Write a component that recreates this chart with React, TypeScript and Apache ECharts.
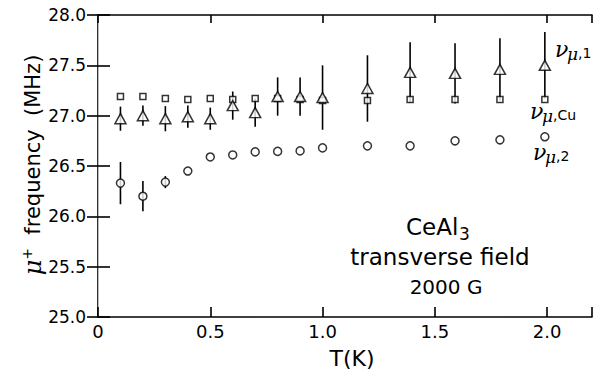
import React, { useEffect, useRef } from "react";
import * as echarts from "echarts";

// Temperature (K)
const T = [0.1, 0.2, 0.3, 0.4, 0.5, 0.6, 0.7, 0.8, 0.9, 1.0, 1.2, 1.39, 1.59, 1.79, 1.99];
// nu_mu,Cu (squares)
const nuCu = [27.19, 27.19, 27.17, 27.16, 27.17, 27.16, 27.17, 27.17, 27.16, 27.15, 27.15, 27.16, 27.16, 27.16, 27.16];
// nu_mu,1 (triangles) and its error
const nu1 = [26.97, 27.0, 26.97, 26.99, 26.97, 27.1, 27.03, 27.19, 27.19, 27.18, 27.27, 27.43, 27.42, 27.46, 27.5];
const nu1Err = [0.12, 0.1, 0.125, 0.11, 0.11, 0.14, 0.14, 0.19, 0.19, 0.32, 0.33, 0.3, 0.3, 0.31, 0.33];
// nu_mu,2 (circles) and its error
const nu2 = [26.33, 26.2, 26.34, 26.45, 26.59, 26.61, 26.64, 26.645, 26.65, 26.68, 26.7, 26.7, 26.75, 26.76, 26.79];
const nu2Err = [0.21, 0.15, 0.06, 0, 0, 0, 0, 0, 0, 0, 0, 0, 0, 0, 0];

const yTicks = { min: 25, max: 28, interval: 0.5 };
const xTicks = { min: 0, max: 2.2, interval: 0.5 };

const FONT = "DejaVu Sans";
const SERIF = "DejaVu Serif";

function errData(vals: number[], errs: number[]) {
  const out: number[][] = [];
  vals.forEach((v, i) => {
    if (errs[i] > 0) out.push([T[i], v - errs[i], v + errs[i]]);
  });
  return out;
}

const renderErr = (params: any, api: any) => {
  const x = api.value(0);
  const p1 = api.coord([x, api.value(1)]);
  const p2 = api.coord([x, api.value(2)]);
  return {
    type: "line",
    shape: { x1: p1[0], y1: p1[1], x2: p2[0], y2: p2[1] },
    style: { stroke: "#000", lineWidth: 1.6 },
  };
};

function nuLabel(x: number, y: number, sub: string, subDx: number) {
  return [
    { type: "text", x, y, style: { text: "ν", fontFamily: SERIF, fontStyle: "italic", fontSize: 22, fill: "#000", verticalAlign: "middle", align: "left" } },
    { type: "text", x: x + 12, y: y + 5, style: { text: "μ", fontFamily: SERIF, fontStyle: "italic", fontSize: 17, fill: "#000", verticalAlign: "middle", align: "left" } },
    { type: "text", x: x + 12 + subDx, y: y + 4, style: { text: sub, fontFamily: FONT, fontSize: 14, fill: "#000", verticalAlign: "middle", align: "left" } },
  ];
}

export default function App() {
  const ref = useRef<HTMLDivElement>(null);
  useEffect(() => {
    if (!ref.current) return;
    const chart = echarts.init(ref.current, null, { renderer: "svg" });
    const axisLine = { show: true, lineStyle: { color: "#000", width: 1.6 } };
    const tickFmtX = (v: number) =>
      Math.abs(v * 2 - Math.round(v * 2)) > 1e-6 ? "" : v === 0 ? "0" : v.toFixed(1);
    chart.setOption({
      animation: false,
      backgroundColor: "#fff",
      grid: { left: 98, right: 1, top: 15, bottom: 57 },
      xAxis: [
        {
          type: "value", position: "bottom", ...xTicks,
          axisLine, axisTick: { inside: true, length: 10, lineStyle: { color: "#000", width: 1.6 } },
          axisLabel: { formatter: tickFmtX, fontSize: 18, fontFamily: FONT, color: "#000", margin: 5 },
          splitLine: { show: false },
        },
        {
          type: "value", position: "top", ...xTicks,
          axisLine, axisTick: { inside: true, length: 8, lineStyle: { color: "#000", width: 1.6 } },
          axisLabel: { show: false }, splitLine: { show: false },
        },
      ],
      yAxis: [
        {
          type: "value", position: "left", ...yTicks,
          axisLine, axisTick: { inside: true, length: 12, lineStyle: { color: "#000", width: 1.6 } },
          axisLabel: { formatter: (v: number) => v.toFixed(1), fontSize: 17, fontFamily: FONT, color: "#000", margin: 12 },
          splitLine: { show: false },
        },
        {
          type: "value", position: "right", ...yTicks,
          axisLine: { show: true, lineStyle: { color: "#bbb", width: 1 } },
          axisTick: { inside: true, length: 11, lineStyle: { color: "#000", width: 1.6 } },
          axisLabel: { show: false }, splitLine: { show: false },
        },
      ],
      series: [
        { type: "custom", renderItem: renderErr, data: errData(nu1, nu1Err), encode: { x: 0, y: [1, 2] }, z: 1 },
        { type: "custom", renderItem: renderErr, data: errData(nu2, nu2Err), encode: { x: 0, y: [1, 2] }, z: 1 },
        {
          type: "scatter", name: "nu_mu,Cu", data: T.map((t, i) => [t, nuCu[i]]), symbol: "rect", symbolSize: 6,
          itemStyle: { color: "#fff", borderColor: "#000", borderWidth: 1.5 }, z: 3,
        },
        {
          type: "scatter", name: "nu_mu,1", data: T.map((t, i) => [t, nu1[i]]), symbol: "triangle", symbolSize: [11, 10],
          itemStyle: { color: "#fff", borderColor: "#000", borderWidth: 1.5 }, z: 4,
        },
        {
          type: "scatter", name: "nu_mu,2", data: T.map((t, i) => [t, nu2[i]]), symbol: "circle", symbolSize: 8,
          itemStyle: { color: "#fff", borderColor: "#000", borderWidth: 1.5 }, z: 4,
        },
      ],
      graphic: [
        {
          type: "text", x: 33, y: 165, rotation: Math.PI / 2,
          style: {
            text: "{m|μ}{p|+}{t|  frequency  (MHz)}",
            align: "center", verticalAlign: "middle",
            rich: {
              m: { fontFamily: SERIF, fontStyle: "italic", fontSize: 24, fill: "#000" },
              p: { fontFamily: FONT, fontSize: 14, fill: "#000", padding: [0, 0, 12, 0] },
              t: { fontFamily: FONT, fontSize: 21, fill: "#000" },
            },
          },
        },
        { type: "text", x: 352, y: 358, style: { text: "T(K)", fontFamily: FONT, fontSize: 22, fill: "#000", align: "center", verticalAlign: "middle" } },
        { type: "text", x: 406, y: 227, style: { text: "CeAl", fontFamily: FONT, fontSize: 23, fill: "#000", align: "left", verticalAlign: "middle" } },
        { type: "text", x: 459, y: 234, style: { text: "3", fontFamily: FONT, fontSize: 17, fill: "#000", align: "left", verticalAlign: "middle" } },
        { type: "text", x: 440, y: 257, style: { text: "transverse field", fontFamily: FONT, fontSize: 23, fill: "#000", align: "center", verticalAlign: "middle" } },
        { type: "text", x: 446, y: 287, style: { text: "2000 G", fontFamily: FONT, fontSize: 20, fill: "#000", align: "center", verticalAlign: "middle" } },
        ...nuLabel(555, 49, ",1", 11),
        ...nuLabel(530, 111, ",Cu", 11),
        ...nuLabel(533, 152, ",2", 11),
      ],
    });
    return () => chart.dispose();
  }, []);
  return <div ref={ref} style={{ position: "fixed", left: 0, top: 0, width: 595, height: 374 }} />;
}
